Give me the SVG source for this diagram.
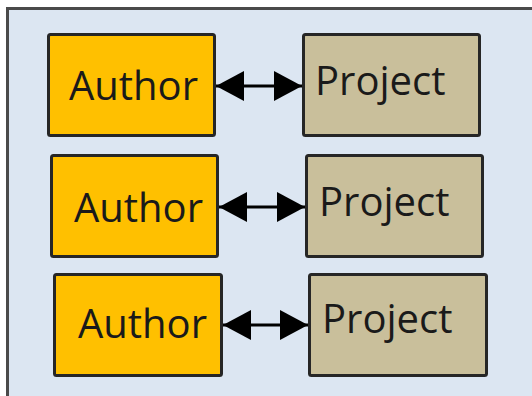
<svg xmlns="http://www.w3.org/2000/svg" width="532" height="396" viewBox="0 0 532 396">
<defs>
<style>
.frame{fill:#dce6f2;stroke:#4a4a4a;stroke-width:3}
.author{fill:#ffc000;stroke:#262626;stroke-width:3}
.project{fill:#c9bf9b;stroke:#262626;stroke-width:3}
.lbl{font-family:"Open Sans","Noto Sans",sans-serif;font-size:40px;fill:#1a1a1a}
.conn{stroke:#000;stroke-width:3;fill:none;marker-start:url(#ah);marker-end:url(#ah)}
</style>
<marker id="ah" viewBox="0 0 10 10" refX="10" refY="5" markerUnits="userSpaceOnUse" markerWidth="28" markerHeight="30" orient="auto-start-reverse" preserveAspectRatio="none">
<path d="M0,0 L10,5 L0,10 Z" fill="#000"/>
</marker>
</defs>
<rect x="0" y="0" width="532" height="396" fill="#ffffff"/>
<rect class="frame" x="7.5" y="8.5" width="540" height="400"/>
<g id="author1"><rect class="author" x="48.5" y="34.5" width="166" height="101" rx="2"/><text class="lbl" x="69" y="100">Author</text></g>
<g id="project1"><rect class="project" x="303.5" y="34.5" width="176" height="101" rx="2"/><text class="lbl" x="315" y="95">Project</text></g>
<g id="author2"><rect class="author" x="51.5" y="155.5" width="166" height="101" rx="2"/><text class="lbl" x="74" y="222">Author</text></g>
<g id="project2"><rect class="project" x="306.5" y="155.5" width="176" height="101" rx="2"/><text class="lbl" x="319" y="216">Project</text></g>
<g id="author3"><rect class="author" x="54.5" y="274.5" width="167" height="101" rx="2"/><text class="lbl" x="78" y="338">Author</text></g>
<g id="project3"><rect class="project" x="309.5" y="274.5" width="177" height="101" rx="2"/><text class="lbl" x="322" y="333">Project</text></g>
<g id="connectors">
<line class="conn" x1="216" y1="86" x2="302" y2="86"/>
<line class="conn" x1="219" y1="207" x2="305" y2="207"/>
<line class="conn" x1="223" y1="325" x2="308" y2="325"/>
</g>
</svg>
